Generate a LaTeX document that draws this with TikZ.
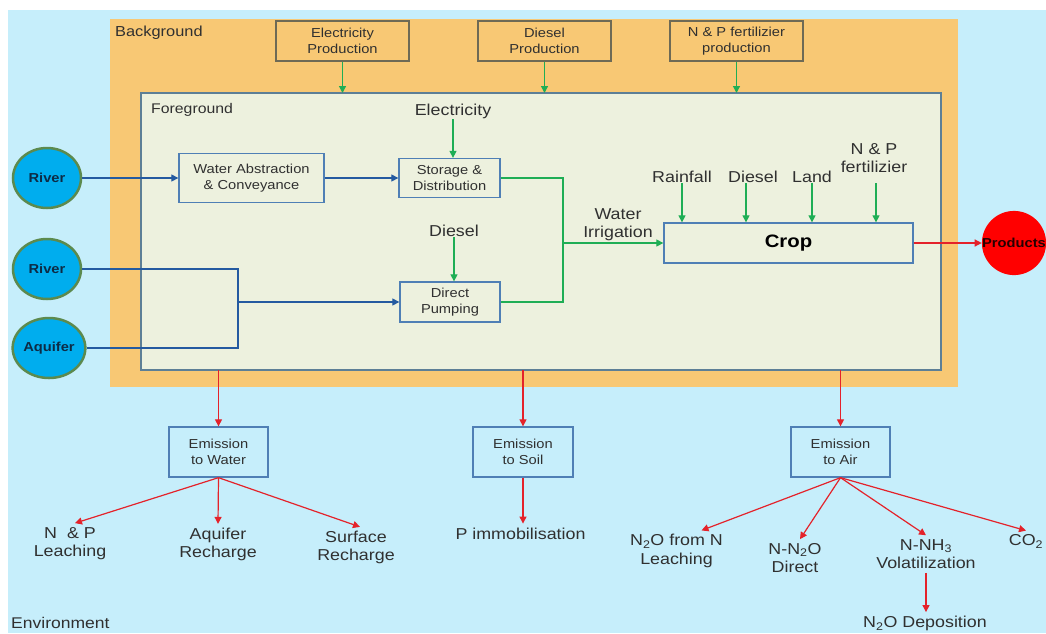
\documentclass[tikz,border=0pt]{standalone}
\usepackage{fontspec}
\setmainfont{Liberation Sans}[FakeStretch=1.13]
\usetikzlibrary{arrows.meta,shapes.geometric}

\definecolor{envc}{HTML}{C6EEFB}
\definecolor{bgc}{HTML}{F8C874}
\definecolor{fgc}{HTML}{EDF1DE}
\definecolor{fgline}{HTML}{5D7F96}
\definecolor{boxline}{HTML}{4F7FB5}
\definecolor{topline}{HTML}{6E6A55}
\definecolor{txt}{HTML}{303030}
\definecolor{flowblue}{HTML}{245AA0}
\definecolor{flowgreen}{HTML}{1FAE55}
\definecolor{flowred}{HTML}{E4222A}
\definecolor{srcfill}{HTML}{00ADEE}
\definecolor{srcline}{HTML}{5C8A4E}
\definecolor{srctext}{HTML}{0D2B45}

\begin{document}
\begin{tikzpicture}[x=1pt,y=-1pt,
  region/.style={inner sep=0pt,outer sep=0pt},
  regionlabel/.style={anchor=base west,text=txt,inner sep=0pt},
  boxtext/.style={font=\fontsize{13}{15.6}\selectfont,text=txt,align=center},
  topbox/.style={boxtext,draw=topline,fill=bgc,line width=1.2pt,
    minimum width=133pt,minimum height=40pt,inner sep=0pt},
  procbox/.style={boxtext,draw=boxline,fill=fgc,line width=1.3pt,inner sep=0pt},
  embox/.style={boxtext,draw=boxline,fill=envc,line width=1.3pt,
    minimum width=99pt,minimum height=50pt,inner sep=0pt},
  lbl/.style={font=\fontsize{15.8}{18.5}\selectfont,text=txt,align=center,inner sep=1pt},
  outlbl/.style={lbl,outer sep=3pt},
  src/.style={ellipse,fill=srcfill,draw=srcline,line width=2.5pt,
    minimum width=68pt,minimum height=60pt,inner sep=0pt,
    font=\fontsize{13}{15}\selectfont\bfseries,text=srctext},
  prod/.style={circle,fill=red,minimum size=62pt,inner sep=0pt,
    font=\fontsize{13}{15}\selectfont\bfseries,text=black!85!red},
  arr/.style={-{Triangle[length=7pt,width=7pt]}},
  bflow/.style={flowblue,line width=1.1pt},
  gflow/.style={flowgreen,line width=1.2pt},
  rflow/.style={flowred,line width=1.2pt}]

\useasboundingbox (0,0) rectangle (1046,633);

% nested system regions
\node[region,fill=envc,minimum width=1038pt,minimum height=623pt] (env) at (527,321.5) {};
\node[region,fill=bgc,minimum width=848pt,minimum height=368pt] (bg) at (534,203) {};
\node[region,fill=fgc,draw=fgline,line width=1.5pt,minimum width=800pt,minimum height=277pt] (fg) at (541,231.5) {};

\node[regionlabel,font=\fontsize{14.5}{17}\selectfont] (bgL) at (115,36) {Background};
\node[regionlabel,font=\fontsize{14}{17}\selectfont] (fgL) at (151,113.3) {Foreground};
\node[regionlabel,font=\fontsize{15.5}{18}\selectfont] (envL) at (11,628.5) {Environment};

% background processes
\node[topbox] (elecP) at (342.5,41) {Electricity\\Production};
\node[topbox] (dieselP) at (544.5,41) {Diesel\\Production};
\node[topbox] (fertP) at (736.5,41) {N \& P fertilizier\\production};
\foreach \n in {elecP,dieselP,fertP}
  \draw[gflow,arr] (\n.south) -- (\n.south |- fg.north);

% foreground processes
\node[procbox,minimum width=145pt,minimum height=49pt] (wa) at (251.5,178) {Water Abstraction\\\& Conveyance};
\node[procbox,minimum width=101pt,minimum height=39pt] (sd) at (449.5,178) {Storage \&\\Distribution};
\node[procbox,minimum width=100pt,minimum height=40pt] (dp) at (450,302) {Direct\\Pumping};
\node[procbox,minimum width=249pt,minimum height=40pt,
  font=\fontsize{18}{20}\selectfont\bfseries,text=black] (crop) at (788.5,243) {Crop};

% water sources and product
\node[src] (river1) at (47,178) {River};
\node[src] (river2) at (47,269) {River};
\node[src] (aquifer) at (49,348) {Aquifer};
\node[prod] (products) at (1014,243) {Products};

% water supply chain
\draw[bflow,arr] (river1) -- (wa);
\draw[bflow,arr] (wa) -- (sd);
\coordinate (jt) at (238,269);
\coordinate (jb) at (238,348);
\coordinate (jm) at (238,302);
\draw[bflow] (river2.east) -- (jt) -- (jb) -- (aquifer.east);
\draw[bflow,arr] (jm) -- (dp);

\coordinate (gj) at (563,243);
\draw[gflow] (sd.east) -| (gj) |- (dp.east);
\draw[gflow,arr] (gj) -- (crop.west);
\node[lbl] (irrL) at (618,224.5) {Water\\Irrigation};

% inputs
\node[lbl,anchor=base] (elecL) at (453,115) {Electricity};
\draw[gflow,arr] (elecL.south) -- (elecL.south |- sd.north);
\node[lbl,anchor=base] (dieselL) at (454,236) {Diesel};
\draw[gflow,arr] (dieselL.south) -- (dieselL.south |- dp.north);

\node[lbl,anchor=base] (rainL) at (682,182) {Rainfall};
\node[lbl,anchor=base] (dieselC) at (753,182) {Diesel};
\node[lbl,anchor=base] (landL) at (812,182) {Land};
\node[lbl] (fertL) at (874,158) {N \& P\\fertilizier};
\draw[gflow,arr] (rainL.south) -- (rainL.south |- crop.north);
\draw[gflow,arr] ([xshift=-7pt]dieselC.south) -- ([xshift=-7pt]dieselC.south |- crop.north);
\draw[gflow,arr] (landL.south) -- (landL.south |- crop.north);
\draw[gflow,arr] ([xshift=2pt,yshift=-9pt]fertL.south) -- ([xshift=2pt]fertL.south |- crop.north);

\draw[rflow,arr] (crop.east) -- (products.west);

% emissions
\node[embox] (emW) at (218.5,452) {Emission\\to Water};
\node[embox,minimum width=100pt] (emS) at (523,452) {Emission\\to Soil};
\node[embox] (emA) at (840.5,452) {Emission\\to Air};
\foreach \n in {emW,emS,emA}
  \draw[rflow,arr] (\n.north |- fg.south) -- (\n.north);

\node[outlbl] (npL) at (70,543.5) {N~~\& P\\Leaching};
\node[outlbl] (aqL) at (218,544.5) {Aquifer\\Recharge};
\node[outlbl] (srL) at (356,547.5) {Surface\\Recharge};
\draw[rflow,arr] (emW.south) -- ([xshift=5pt]npL.north);
\draw[rflow,arr] (emW.south) -- (aqL.north);
\draw[rflow,arr] (emW.south) -- ([xshift=4pt]srL.north);

\node[outlbl,anchor=base] (pL) at (520.5,539) {P immobilisation};
\draw[rflow,arr] (emS.south) -- (emS.south |- pL.north);

\node[outlbl] (n2oL) at (676.5,551) {N\textsubscript{2}O from N\\Leaching};
\node[outlbl] (nn2oL) at (795,558) {N-N\textsubscript{2}O\\Direct};
\node[outlbl] (nh3L) at (926,554) {N-NH\textsubscript{3}\\Volatilization};
\node[outlbl] (co2L) at (1026,541.5) {CO\textsubscript{2}};
\node[outlbl,anchor=base] (depL) at (925,627.5) {N\textsubscript{2}O Deposition};
\draw[rflow,arr] (emA.south) -- ([xshift=25pt]n2oL.north);
\draw[rflow,arr] (emA.south) -- ([xshift=5pt]nn2oL.north);
\draw[rflow,arr] (emA.south) -- (nh3L.north);
\draw[rflow,arr] (emA.south) -- (co2L.north);
\draw[rflow,arr] (nh3L.south) -- (nh3L.south |- depL.north);

\end{tikzpicture}
\end{document}
